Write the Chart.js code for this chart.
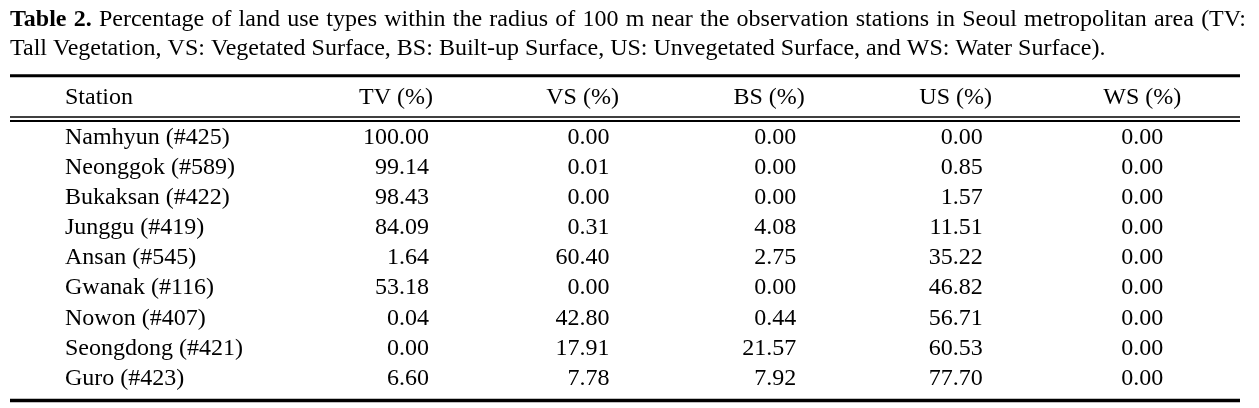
<!DOCTYPE html>
<html><head><meta charset="utf-8">
<script src="https://cdn.jsdelivr.net/npm/chart.js@4.4.1/dist/chart.umd.min.js"></script>
<style>html,body{margin:0;padding:0;background:#fff;} #wrap{width:1259px;height:408px;position:relative;}</style>
</head><body><div id="wrap"><canvas id="c"></canvas></div>
<script>
const captionBold = 'Table 2.';
const captionLine1 = 'Percentage of land use types within the radius of 100 m near the observation stations in Seoul metropolitan area (TV:';
const captionLine2 = 'Tall Vegetation, VS: Vegetated Surface, BS: Built-up Surface, US: Unvegetated Surface, and WS: Water Surface).';
const stubHeader = 'Station';
const columns = ['TV (%)', 'VS (%)', 'BS (%)', 'US (%)', 'WS (%)'];
const stations = ['Namhyun (#425)', 'Neonggok (#589)', 'Bukaksan (#422)', 'Junggu (#419)', 'Ansan (#545)',
  'Gwanak (#116)', 'Nowon (#407)', 'Seongdong (#421)', 'Guro (#423)'];
const tv = [100.00, 99.14, 98.43, 84.09, 1.64, 53.18, 0.04, 0.00, 6.60];
const vs = [0.00, 0.01, 0.00, 0.31, 60.40, 0.00, 42.80, 17.91, 7.78];
const bs = [0.00, 0.00, 0.00, 4.08, 2.75, 0.00, 0.44, 21.57, 7.92];
const us = [0.00, 0.85, 1.57, 11.51, 35.22, 46.82, 56.71, 60.53, 77.70];
const ws = [0.00, 0.00, 0.00, 0.00, 0.00, 0.00, 0.00, 0.00, 0.00];
const seriesValues = [tv, vs, bs, us, ws];

const FAMILY = '"Liberation Serif", "Times New Roman", serif';
const FS = 24;
const INK = '#000';

const fmt = v => v.toFixed(2);

const tablePlugin = {
  id: 'tablePlugin',
  beforeDraw(chart) {
    const ctx = chart.ctx;
    const ca = chart.chartArea;
    ctx.save();
    ctx.fillStyle = '#fff';
    ctx.fillRect(0, 0, chart.width, chart.height);
    ctx.fillStyle = INK;
    ctx.textBaseline = 'alphabetic';
    ctx.textAlign = 'left';
    // caption line 1, justified
    const L = 10, R = 1246;
    const words = [];
    captionBold.split(' ').forEach(w => words.push({w, bold: true}));
    captionLine1.split(' ').forEach(w => words.push({w, bold: false}));
    let total = 0;
    words.forEach(o => {
      ctx.font = (o.bold ? 'bold ' : '') + FS + 'px ' + FAMILY;
      o.width = ctx.measureText(o.w).width;
      total += o.width;
    });
    const gap = (R - L - total) / (words.length - 1);
    let x = L;
    words.forEach(o => {
      ctx.font = (o.bold ? 'bold ' : '') + FS + 'px ' + FAMILY;
      ctx.fillText(o.w, x, 25.5);
      x += o.width + gap;
    });
    ctx.font = FS + 'px ' + FAMILY;
    ctx.fillText(captionLine2, L, 55);
    // rules
    ctx.strokeStyle = INK;
    const rule = (y, w) => { ctx.lineWidth = w; ctx.beginPath(); ctx.moveTo(10, y); ctx.lineTo(1240, y); ctx.stroke(); };
    rule(75.8, 3);
    rule(ca.top - 5.5, 1.5);
    rule(ca.top - 1.5, 1.8);
    rule(ca.bottom + 7, 3.5);
    ctx.restore();
  },
  afterDatasetsDraw(chart) {
    const ctx = chart.ctx;
    ctx.save();
    ctx.font = FS + 'px ' + FAMILY;
    ctx.fillStyle = INK;
    ctx.textAlign = 'right';
    ctx.textBaseline = 'middle';
    chart.data.datasets.forEach((ds, j) => {
      const meta = chart.getDatasetMeta(j);
      const texts = ds.data.map(d => fmt(d.v));
      const maxW = Math.max(...texts.map(t => ctx.measureText(t).width));
      meta.data.forEach((el, i) => {
        ctx.fillText(texts[i], el.x + maxW / 2, el.y);
      });
    });
    // stub header aligned with the column headers and the station labels
    const xs = chart.scales.x, ys = chart.scales.y;
    let hy = xs.bottom - 10 - FS * 1.2 / 2;
    const items = xs.getLabelItems ? xs.getLabelItems() : null;
    if (items && items.length && items[0].options && items[0].options.translation) {
      hy = items[0].options.translation[1] + (items[0].textOffset || 0);
    }
    ctx.textAlign = 'left';
    ctx.fillText(stubHeader, ys.left, hy);
    ctx.restore();
  }
};

const datasets = columns.map((c, j) => ({
  label: c,
  data: seriesValues[j].map((v, i) => ({x: c, y: stations[i], v})),
  showLine: false,
  pointRadius: 0,
  pointHoverRadius: 0,
  borderColor: 'rgba(0,0,0,0)',
  backgroundColor: 'rgba(0,0,0,0)'
}));

new Chart(document.getElementById('c'), {
  type: 'line',
  data: {labels: columns, datasets},
  options: {
    responsive: true,
    maintainAspectRatio: false,
    animation: false,
    devicePixelRatio: 1,
    events: [],
    layout: {padding: {left: 65, right: 23.5, top: 80, bottom: 13}},
    plugins: {legend: {display: false}, tooltip: {enabled: false}, title: {display: false}},
    scales: {
      x: {
        type: 'category',
        labels: columns,
        position: 'top',
        offset: true,
        grid: {display: false, drawTicks: false},
        border: {display: false},
        ticks: {color: INK, font: {family: FAMILY, size: FS, lineHeight: 1.2}, padding: 10, maxRotation: 0, autoSkip: false},
        afterFit(scale) { scale.height = 42.5; }
      },
      y: {
        type: 'category',
        labels: stations,
        position: 'left',
        offset: true,
        grid: {display: false, drawTicks: false},
        border: {display: false},
        ticks: {color: INK, font: {family: FAMILY, size: FS, lineHeight: 1.2}, crossAlign: 'far', padding: 0, autoSkip: false},
        afterFit(scale) { scale.width = 237.75; }
      }
    }
  },
  plugins: [tablePlugin]
});
</script>
</body></html>
